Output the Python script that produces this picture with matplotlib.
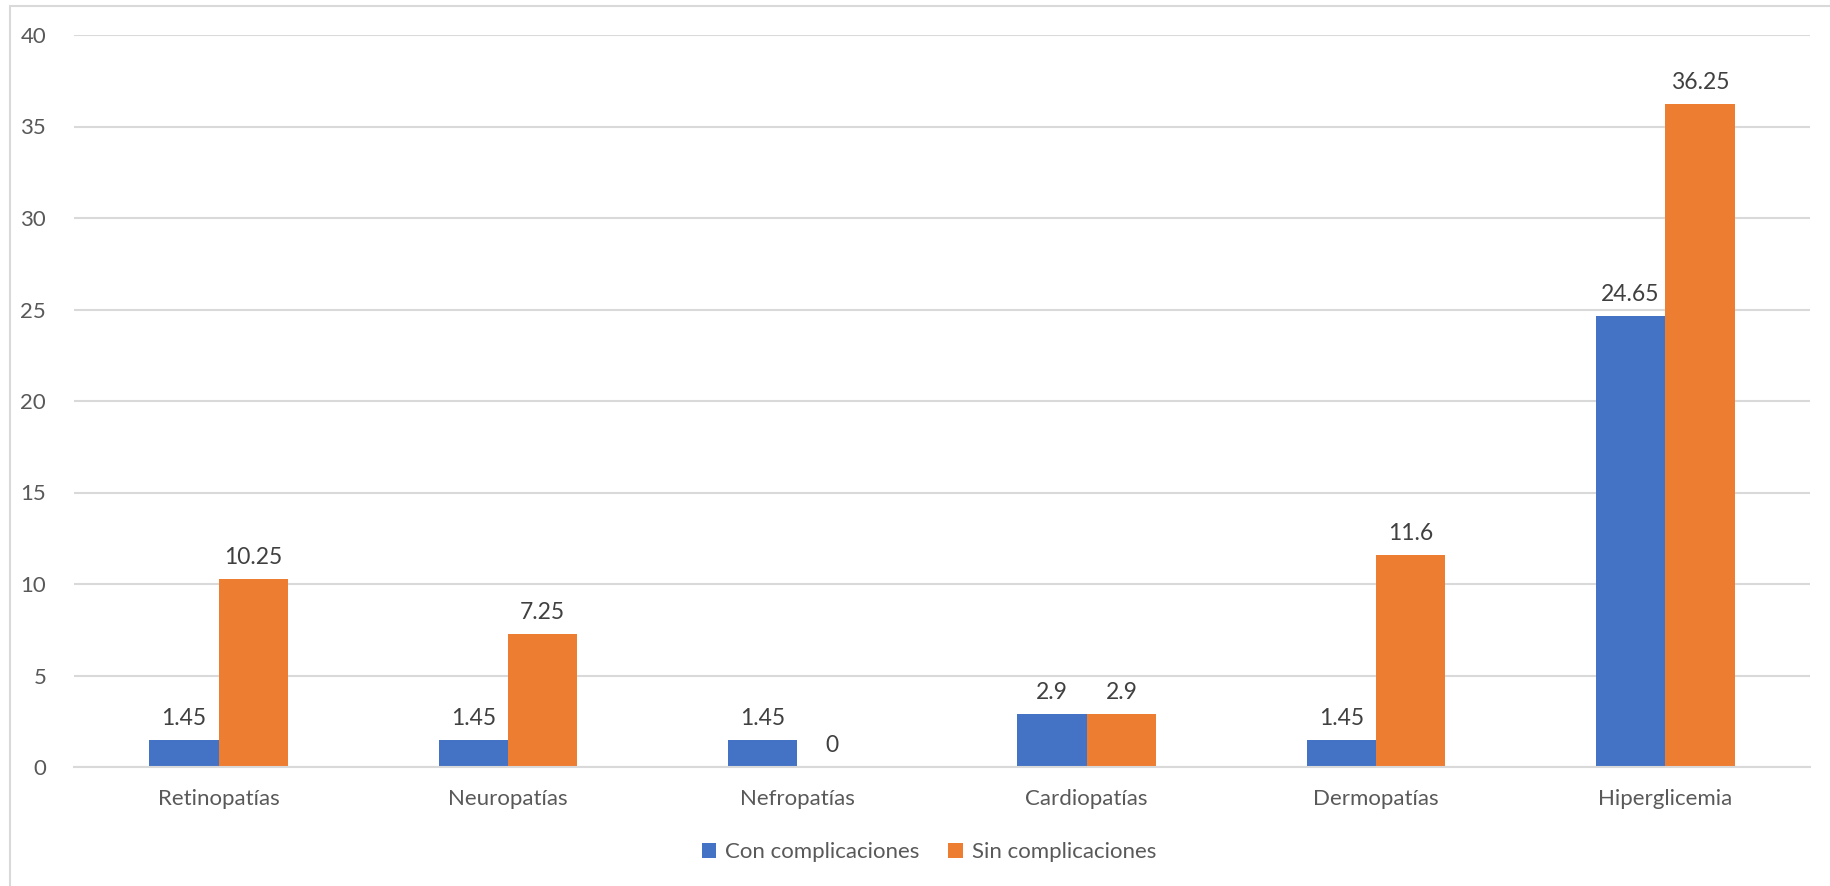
# bar chart: complicaciones con / sin

import matplotlib
matplotlib.use("Agg")
import matplotlib.pyplot as plt
from matplotlib.patches import Rectangle
import numpy as np

categorias = ["Retinopatías", "Neuropatías", "Nefropatías", "Cardiopatías", "Dermopatías", "Hiperglicemia"]
con_complicaciones = [1.45, 1.45, 1.45, 2.9, 1.45, 24.65]
sin_complicaciones = [10.25, 7.25, 0, 2.9, 11.6, 36.25]
series_names = ["Con complicaciones", "Sin complicaciones"]
y_ticks = [0, 5, 10, 15, 20, 25, 30, 35, 40]

plt.rcParams['font.family'] = ['Lato', 'DejaVu Sans']

W, H = 1831, 886
fig = plt.figure(figsize=(W / 100, H / 100), dpi=100)

# chart border (Excel style)
fig.patches.append(Rectangle((10 / W, -0.05), 1.2, 1.05 - 6 / H, transform=fig.transFigure,
                             fill=False, edgecolor="#D9D9D9", linewidth=1.5))

ax = fig.add_axes([74 / W, 1 - 767 / H, (1810 - 74) / W, (767 - 35) / H])

x = np.arange(len(categorias))
bar_width = 0.24

bars1 = ax.bar(x - bar_width / 2, con_complicaciones, bar_width, color="#4472C4", label=series_names[0])
bars2 = ax.bar(x + bar_width / 2, sin_complicaciones, bar_width, color="#ED7D31", label=series_names[1])

for bars, vals in [(bars1, con_complicaciones), (bars2, sin_complicaciones)]:
    ax.bar_label(bars, labels=[f"{v:g}" for v in vals], padding=8, fontsize=16.5, color="#404040")

ax.set_xlim(-0.5, len(categorias) - 0.5)
ax.set_ylim(0, 40)
ax.set_yticks(y_ticks)
ax.set_xticks(x)
ax.set_xticklabels(categorias)
ax.tick_params(axis="both", length=0, labelsize=16, labelcolor="#595959")
ax.tick_params(axis="y", pad=20)
ax.tick_params(axis="x", pad=16)

ax.grid(axis="y", color="#D9D9D9", linewidth=1.5)
ax.set_axisbelow(True)
for side in ["top", "right", "left"]:
    ax.spines[side].set_visible(False)
ax.spines["bottom"].set_color("#D9D9D9")
ax.spines["bottom"].set_linewidth(1.5)

fig.legend(loc="center", bbox_to_anchor=(929 / W, 1 - 852 / H), ncol=2, frameon=False,
           fontsize=16, labelcolor="#595959", handlelength=0.65, handleheight=0.65,
           handletextpad=0.4, columnspacing=1.3)

plt.savefig("out.png", dpi=100)
